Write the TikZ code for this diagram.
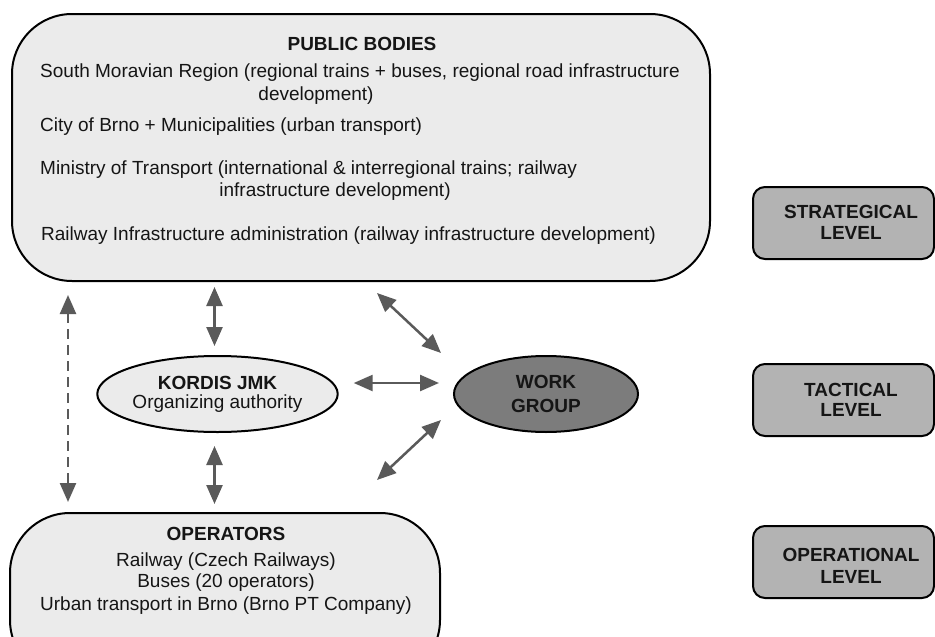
\documentclass[tikz,border=0pt]{standalone}
\usepackage{fontspec}
\setmainfont{Liberation Sans}
\usetikzlibrary{arrows.meta,calc,shapes.geometric}
\definecolor{boxfill}{HTML}{EBEBEB}
\definecolor{lvlfill}{HTML}{B3B3B3}
\definecolor{wgfill}{HTML}{7C7C7C}
\definecolor{arrgray}{HTML}{5A5A5A}
\definecolor{txt}{HTML}{151515}
\begin{document}
\begin{tikzpicture}[x=1pt,y=-1pt,
  every node/.style={font=\fontsize{19}{22}\selectfont, inner sep=0pt, text=txt},
  bold/.style={font=\fontsize{19}{22}\selectfont\bfseries},
  bigbox/.style={draw=black, line width=2pt, fill=boxfill, rounded corners=60pt},
  lvlbox/.style={draw=black, line width=2pt, fill=lvlfill, rounded corners=12pt,
    minimum width=181pt, minimum height=72pt},
  ell/.style={ellipse, draw=black, line width=2pt},
  dblarrow/.style={draw=arrgray, line width=2.5pt,
    {Triangle[length=19pt,width=16pt]}-{Triangle[length=19pt,width=16pt]}}
]
\useasboundingbox[fill=white] (0,0) rectangle (935,637);

% public bodies
\node[bigbox, minimum width=698pt, minimum height=267pt] (pub) at (361,147.5) {};
\node[bold] (pubt) at (362,44) {PUBLIC BODIES};
\node[anchor=west] (l1) at (40,73) {South Moravian Region (regional trains + buses, regional road infrastructure};
\node (l1b) at (316,96) {development)};
\node[anchor=west] (l2) at (40,127) {City of Brno + Municipalities (urban transport)};
\node[anchor=west] (l3) at (40,170) {Ministry of Transport (international \& interregional trains; railway};
\node (l3b) at (335,192) {infrastructure development)};
\node[anchor=west] (l4) at (41,236) {Railway Infrastructure administration (railway infrastructure development)};

% operators
\node[bigbox, minimum width=430pt, minimum height=167pt] (ops) at (225,596.5) {};
\node[bold] (opst) at (226,534) {OPERATORS};
\node (o1) at (226,562) {Railway (Czech Railways)};
\node (o2) at (226,583) {Buses (20 operators)};
\node (o3) at (226,606) {Urban transport in Brno (Brno PT Company)};

% ellipses
\node[ell, fill=boxfill, minimum width=240pt, minimum height=76pt, align=center] (kord) at (217.5,394)
  {\bfseries KORDIS JMK\\[-3pt]Organizing authority};
\node[ell, fill=wgfill, minimum width=184pt, minimum height=76pt, align=center, font=\fontsize{19}{22}\selectfont\bfseries] (wg) at (546,394)
  {WORK\\[2pt]GROUP};

% levels
\node[lvlbox] (ls) at (843.5,223) {};
\node[bold, align=center] (lst) at (851,222) {STRATEGICAL\\[-1pt]LEVEL};
\node[lvlbox] (lt) at (843.5,400) {};
\node[bold, align=center] (ltt) at (851,400) {TACTICAL\\[-2pt]LEVEL};
\node[lvlbox] (lo) at (843.5,562) {};
\node[bold, align=center] (lot) at (851,566) {OPERATIONAL\\[0pt]LEVEL};

% connectors
\coordinate (kx) at ([xshift=-3pt]kord.north);
\coordinate (dx) at (68,0);
\coordinate (hy) at (0,383);
\draw[dblarrow, shorten <=5pt, shorten >=9pt] (kx |- pub.south) -- (kx);
\draw[dblarrow, shorten <=13pt, shorten >=8pt] (kx |- kord.south) -- (kx |- ops.north);
\draw[dblarrow, dash pattern=on 10pt off 6pt, shorten <=13pt, shorten >=10pt] (dx |- pub.south) -- (dx |- ops.north);
\draw[dblarrow, shorten <=15pt, shorten >=14pt] (kord.east |- hy) -- (wg.west |- hy);
\coordinate (d1a) at (377,293);
\coordinate (d1b) at (441,353);
\coordinate (d2a) at (441,420);
\coordinate (d2b) at (377,480);
\draw[dblarrow] (d1a) -- (d1b);
\draw[dblarrow] (d2a) -- (d2b);
\end{tikzpicture}
\end{document}
